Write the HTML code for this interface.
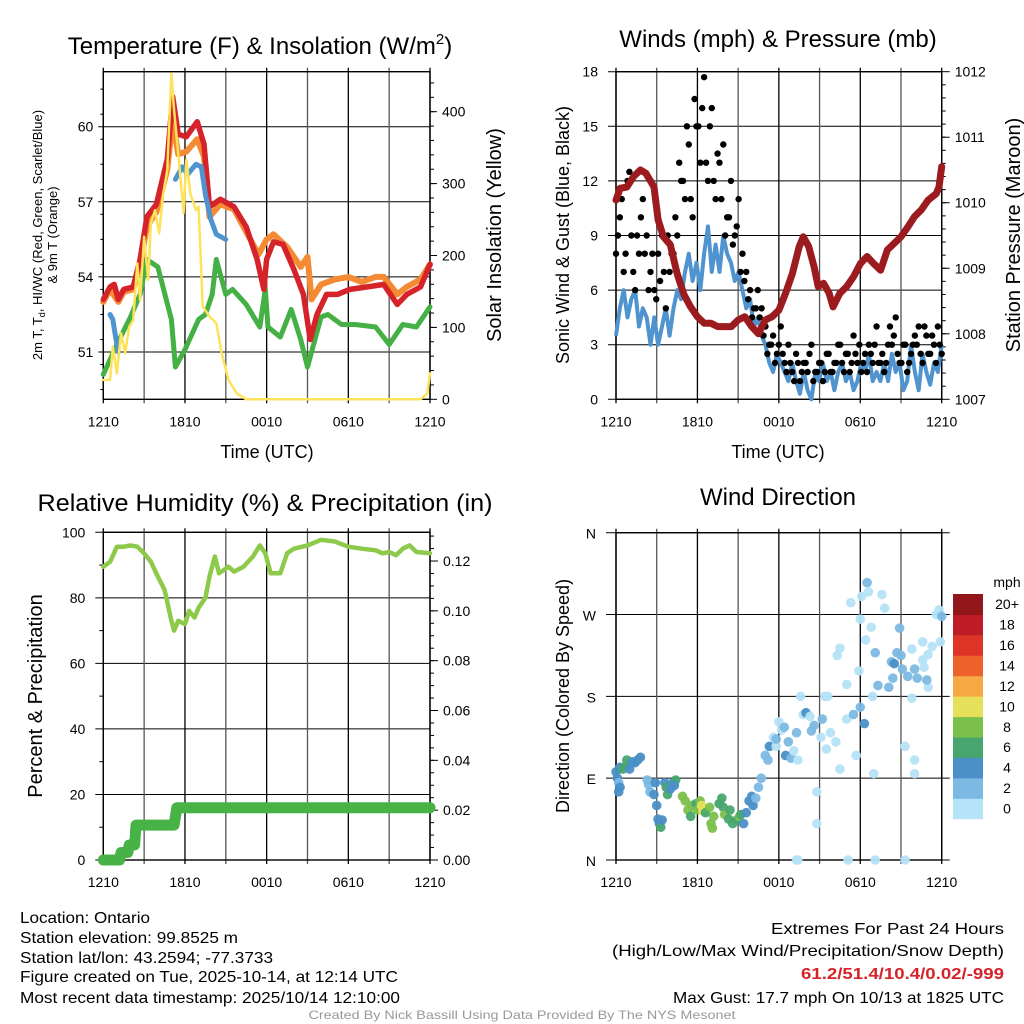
<!DOCTYPE html>
<html><head><meta charset="utf-8"><style>
html,body{margin:0;padding:0;background:#fff;}
svg{display:block;font-family:"Liberation Sans",sans-serif;}
</style></head><body>
<svg id="s" width="1024" height="1024" viewBox="0 0 1024 1024" xmlns="http://www.w3.org/2000/svg"></svg>
<script>
// ---------- DATA ----------
const timeTickLabels = ["1210","1810","0010","0610","1210"];
const tempHours = [0,0.5,0.8,1.1,1.5,2.2,2.7,3.2,3.9,4.7,5.1,5.5,6.1,6.9,7.4,7.8,8.6,9.6,10.5,11.3,11.8,12,12.5,13.2,14,14.7,15.2,15.7,16.4,17.2,18.1,19.4,20.6,21.6,22.3,23.3,24];
const tempVals  = [53.1,53.6,53.7,53.1,53.5,53.6,54.7,56.4,56.9,58.7,61.2,59.7,59.6,60.2,59.3,56.8,57.1,56.8,56,54.7,53.5,54.7,55.4,55.3,54.3,53.3,51.5,52.5,53.3,53.3,53.5,53.6,53.7,52.9,53.3,53.6,54.5];
const t9Hours = [0,0.5,1.1,1.5,2.2,2.7,3.2,3.9,4.7,5.1,5.5,6.1,6.9,7.4,7.8,8.6,9.6,10.5,11.4,12,12.5,13.5,14.5,15,15.3,16,17,18,19,20,20.6,21.6,22.3,23.3,24];
const t9Vals  = [53.0,53.5,53.0,53.4,53.5,54.5,56.0,56.6,58.3,60.3,58.9,59.0,59.5,58.8,56.4,56.9,56.7,55.8,54.9,55.5,55.7,55.2,54.4,54.8,53.1,53.7,53.9,54.0,53.8,54.0,54.0,53.3,53.6,53.9,54.5];
const tdHours = [0,1,2,2.7,3.2,4,5,5.3,6,6.5,7,7.5,8,8.3,9,9.5,10.5,11.5,11.9,12.1,13,13.8,14.5,15,16,16.5,17.5,18.5,20,21,22,23,24];
const tdVals  = [50.1,51.3,52.4,53.3,54.7,54.4,52.3,50.4,51.1,51.7,52.3,52.5,53.3,54.7,53.3,53.5,52.9,52,53.5,52,51.6,52.7,51.5,50.4,52.4,52.5,52.1,52.1,52,51.3,52.1,52,52.8];
const hiHoursA = [0.5,0.7,0.9,1.1]; const hiValsA = [52.5,52.3,51.6,51.0];
const hiHoursB = [5.3,5.8,6.2,6.8,7.2,7.5,7.9,8.3,9.0]; const hiValsB = [57.9,58.4,58.1,58.5,58.4,57.3,56.3,55.7,55.5];
const solarHours = [0,0.5,0.7,1,1.3,1.6,1.9,2.2,2.5,2.7,3,3.3,3.5,3.8,4.1,4.4,4.7,5,5.2,5.5,5.9,6.1,6.4,6.8,7,7.3,7.8,8.3,8.7,9.2,9.8,10.5,23.3,23.8,24];
const solarVals  = [27,27,73,36,92,64,101,110,189,138,226,166,245,263,231,286,319,453,402,342,259,333,286,263,268,129,115,106,64,27,8,0,0,8,36];
const tempTicks = [51,54,57,60]; const solarTicks=[0,100,200,300,400];
const windVals = [3.5,5,6,4.5,5.5,6,4,5,4.5, 3,4.5,3,4,5,3.5,5, 6,5.5,7,8,6.5,7.5,6, 8,9.5,7,8.5,7,9,8, 7.5,6.5,7,6,5,5.5,4, 4.5,3.5,3,2,1.5,2.5,2, 1.5,1,2,1,0.3,1.5,0.5, 0,1.5,1,2,1,1.5,0.5, 1.5,2,1,1.5,0.5,1,2, 1.5,2.5,1,1.5,1,2,1, 2.5,1.5,2,0.5,1,3,1.5, 0.5,2.5,1.5,0.8,2,1.5,3];
const gustVals = [8,10,7,12,9,6,8,11,9, 7,6,8,9,5,7,8, 9,12,11,14,10,15,13, 17.7,12,16,11,13,14,10, 12,9,11,8,7,6,5, 6,5,4,3,3.5,2.5,4, 2,3,1.5,2.5,1,2,1.5, 3,1.5,2,1,2.5,1.5,2, 3,2,2.5,1.5,3.5,2,1.5, 2.5,3,2,4,2,1.5,3, 3,4.5,2,3,1.5,2.5,3.5, 4,2,3.5,2.5,3,4,2.5];
const gustVals2 = [9,11,8,12.5,7,9,10,8, 6,8,5.5,6.5,7,9,8, 10,13,12,15,11,16.5,15, 16,13,15,12,13.5,11,9, 10,8.5,9.5,7,6.5,5.5,4.5, 5,4.5,3.5,2.5,3,2,3, 2.5,1.5,2,1,2,1.5,2, 2.5,1,1.5,2,1.5,2.5,1.5, 2,3,1.5,2.5,2,2.5,3, 2,1.5,2.5,3,2,2.5,2, 4,3.5,2.5,2,3,2,3, 3,2.5,4,2.5,3.5,2,3];
const presHours = [0,0.3,0.8,1.3,1.8,2.2,2.8,3.1,3.5,4,4.5,5,5.5,6,6.5,7,7.5,8,8.5,9,9.5,10,10.5,11,11.5,12,12.5,13,13.5,13.8,14.2,14.6,14.9,15.3,15.7,16,16.5,17,17.5,18,18.5,19,19.5,20,20.5,21,21.5,22,22.5,23,23.6,23.8,24];
const presVals  = [1010.04,1010.22,1010.24,1010.4,1010.5,1010.45,1010.24,1009.74,1009.48,1009.36,1008.92,1008.6,1008.41,1008.26,1008.16,1008.16,1008.11,1008.11,1008.11,1008.21,1008.26,1008.11,1008.0,1008.21,1008.26,1008.36,1008.62,1008.92,1009.33,1009.48,1009.33,1009.02,1008.72,1008.77,1008.62,1008.41,1008.62,1008.72,1008.87,1009.07,1009.18,1009.07,1008.97,1009.28,1009.38,1009.48,1009.63,1009.79,1009.89,1010.04,1010.14,1010.24,1010.55];
const windTicks=[0,3,6,9,12,15,18]; const presTicks=[1007,1008,1009,1010,1011,1012];
const rhHours = [0,0.5,1,1.5,2,2.5,3,3.5,4,4.5,5,5.2,5.5,6,6.3,6.7,7,7.5,7.8,8.2,8.5,9.2,9.6,10.3,11,11.5,11.9,12.3,13,13.5,14,15,16,17,18,19,20,20.5,21,21.5,22,22.5,23,24];
const rhVals  = [89.5,91,95.6,95.6,96,95.6,93.6,91,86.5,82.4,73,70,73,72,76,74,77,80,86.5,92.6,87.5,89.5,88,89.5,92.6,96,93.6,87.5,87.5,93.6,95,96,97.7,97.2,95.6,95,94.5,93.6,94,93,95,96,94,93.6];
const prHours = [0,1.2,1.3,1.8,1.9,2.3,2.4,5.2,5.4,24];
const prVals  = [0,0,0.003,0.003,0.006,0.006,0.014,0.014,0.021,0.021];
const rhTicks=[0,20,40,60,80,100]; const prTicks=[0,0.02,0.04,0.06,0.08,0.10,0.12];
const dirHours=[0,0.1,0.2,0.3,0.2,0.3,0.5,0.7,0.8,1.0,1.2,1.4,1.6,1.8,2.3,2.4,2.5,2.9,2.8,3.0,3.1,3.2,3.3,3.4,3.6,3.7,3.8,4.0,4.2,4.4,4.3,4.9,5.1,5.3,5.5,5.6,5.9,6.0,6.2,6.3,6.4,6.6,6.9,7.0,7.1,7.2,7.6,7.8,7.9,8.0,8.3,8.4,8.6,8.9,9.1,9.4,9.2,9.6,9.8,10.0,10.1,10.3,10.5,10.7,11.0,11.3,11.2,11.6,11.8,12.0,12.2,12.5,12.7,12.9,13.1,13.3,13.6,13.8,13.4,14.0,14.3,14.4,14.6,14.8,14.8,15.1,15.4,15.8,15.5,16.2,16.5,17.0,17.3,17.5,17.7,17.9,18.0,18.1,18.3,18.5,18.6,18.8,18.4,18.9,19.0,19.3,19.6,19.8,20.1,20.3,20.5,20.9,21.1,21.3,21.5,21.8,22.0,22.2,22.6,22.7,23.0,23.3,23.6,23.8,24.0,23.9,23.0,22.9,22.0,22.0,21.3,19.1,13.3,13.4,17.1,15.6,16.3,16.5,17.0,20.7,20.4,21.0,21.8,22.6,18.0,19.1,15.2,12.4,11.8];
const dirDeg=[97,90,85,80,75,102,100,103,110,100,108,107,110,113,88,83,75,85,72,60,45,40,36,44,85,80,72,78,85,88,82,70,65,55,48,60,62,55,65,60,54,52,58,40,35,48,62,68,58,50,45,55,40,44,48,40,50,52,65,70,60,68,80,90,115,125,110,135,125,152,143,115,130,112,120,140,180,160,110,162,158,142,148,75,40,135,180,140,122,130,100,155,283,160,115,208,265,290,150,305,295,256,242,180,95,192,292,277,190,218,216,255,210,125,202,178,210,200,220,212,226,235,270,275,268,240,190,198,95,110,0,0,0,0,0,180,225,233,193,228,200,225,232,240,168,228,155,146,133];
const dirSpd=[4,4,3,4,4,4,6,6,6,5,4,4,4,4,2,2,3,4,4,4,4,4,6,4,5,6,6,5,4,6,5,8,8,8,7,8,6,8,8,10,10,6,8,8,8,9,6,6,7,8,6,7,7,6,8,4,6,4,4,4,4,3,3,2,2,4,2,1,1,0,1,4,3,2,1,2,0,1,1,4,1,3,2,0,0,1,0,0,1,1,1,1,0,3,1,1,1,0,4,3,1,0,1,1,1,3,1,0,3,3,4,3,3,1,2,1,3,2,1,1,1,1,1,1,3,1,0,3,0,1,0,0,0,0,0,0,0,0,0,2,3,2,1,1,3,3,2,2,2];
const dirTickLabels=["N","E","S","W","N"];
const speedLabels=["0","2","4","6","8","10","12","14","16","18","20+"];
const speedColors=["#b5e3f7","#7cb9e3","#4a8fc6","#47a66d","#7cc04c","#e6e05a","#f6a843","#ef612a","#de3428","#bd1c24","#92161a"];
</script>
<script>
const S=document.getElementById('s');const NS="http://www.w3.org/2000/svg";
function mk(tag,at,parent){const e=document.createElementNS(NS,tag);for(const k in at)e.setAttribute(k,at[k]);(parent||S).appendChild(e);return e;}
function txt(str,x,y,size,anchor,extra,parent){const e=mk('text',Object.assign({x:x,y:y,'font-size':size,'text-anchor':anchor||'middle',fill:'#000'},extra||{}),parent);e.textContent=str;return e;}
function path(xs,ys,fx,fy){let d='';let pen=false;for(let i=0;i<xs.length;i++){if(ys[i]==null){pen=false;continue;}d+=(pen?'L':'M')+fx(xs[i]).toFixed(1)+' '+fy(ys[i]).toFixed(1);pen=true;}return d;}
function lin(d0,d1,r0,r1){return v=>r0+(v-d0)/(d1-d0)*(r1-r0);}

function frame(g,L,R,T,B){
  for(let i=0;i<=8;i++){const x=L+(R-L)*i/8;mk('line',{x1:x,y1:T-4,x2:x,y2:B+4,stroke:i%2? '#555':'#000','stroke-width':1.3},g);}
  mk('rect',{x:L,y:T,width:R-L,height:B-T,fill:'none',stroke:'#000','stroke-width':1.4},g);
  timeTickLabels.forEach((t,i)=>{const l=txt(t,L+(R-L)*i/4,B+27,14,'middle',{},g);
  
  });
}
// ===== Panel 1 =====
(function(){
 const g=mk('g',{});
 const L=103.3,R=430,T=71.7,B=399.3;
 const fx=lin(0,24,L,R), fy=lin(60,51,126.7,352), fs=lin(0,400,399.3,111.7);
 tempTicks.forEach(v=>{mk('line',{x1:L-5,y1:fy(v),x2:R,y2:fy(v),stroke:'#000','stroke-width':1},g);txt(String(v),L-10,fy(v)+5,14,'end',{},g);});
 for(let v=49.5;v<62.2;v+=1){mk('line',{x1:L-3,y1:fy(v),x2:L,y2:fy(v),stroke:'#000'},g);}
 solarTicks.forEach(v=>{mk('line',{x1:R,y1:fs(v),x2:R+7,y2:fs(v),stroke:'#000'},g);txt(String(v),R+12,fs(v)+5,14,'start',{},g);});
 for(let v=20;v<=450;v+=20){mk('line',{x1:R,y1:fs(v),x2:R+4,y2:fs(v),stroke:'#000'},g);}
 frame(g,L,R,T,B);
 const p=(xs,ys,c,w,n,f)=>{const e=mk('path',{d:path(xs,ys,fx,f||fy),fill:'none',stroke:c,'stroke-width':w,'stroke-linejoin':'round','stroke-linecap':'round'},g);};
 p(tdHours,tdVals,'#44b045',5,'dewpoint-line');
 p(t9Hours,t9Vals,'#f58a34',6,'9m-temp-line');
 p(tempHours,tempVals,'#d52329',5.5,'2m-temp-line');
 p(hiHoursA,hiValsA,'#4f94cf',5,'heat-index-line-a');
 p(hiHoursB,hiValsB,'#4f94cf',5,'heat-index-line-b');
 p(solarHours,solarVals,'#fde35a',2.5,'solar-line',fs);
 const t=txt('Temperature (F) & Insolation (W/m',260,54,24,'middle',{},g);const sup=mk('tspan',{dy:-10,'font-size':15},t);sup.textContent='2';const cl=mk('tspan',{dy:10},t);cl.textContent=')';
 
 const yt=txt('2m T, T',0,0,13,'middle',{transform:'translate(42,235) rotate(-90)'},g);const sb=mk('tspan',{dy:3,'font-size':9},yt);sb.textContent='d';const rs=mk('tspan',{dy:-3},yt);rs.textContent=', HI/WC (Red, Green, Scarlet/Blue)';
 
 txt('& 9m T (Orange)',0,0,13,'middle',{transform:'translate(57,235) rotate(-90)'},g);
 const ry=txt('Solar Insolation (Yellow)',0,0,20,'middle',{transform:'translate(501,235) rotate(-90)'},g);
 const xt=txt('Time (UTC)',267,458,18,'middle',{},g);
})();
// ===== Panel 2 =====
(function(){
 const g=mk('g',{});
 const L=616,R=941.7,T=71.7,B=399.3;
 const fx=lin(0,24,L,R), fy=lin(0,18,B,T), fp=lin(1007,1012,B,T);
 windTicks.forEach(v=>{mk('line',{x1:L-8,y1:fy(v),x2:R,y2:fy(v),stroke:'#000','stroke-width':1},g);txt(String(v),L-18,fy(v)+5,14,'end',{},g);});
 presTicks.forEach(v=>{mk('line',{x1:R,y1:fp(v),x2:R+8,y2:fp(v),stroke:'#000'},g);txt(String(v),R+13,fp(v)+5,14,'start',{},g);});
 for(let v=1007.2;v<1012;v+=0.2){mk('line',{x1:R,y1:fp(v),x2:R+4,y2:fp(v),stroke:'#000'},g);}
 frame(g,L,R,T,B);
 const n=windVals.length;const wh=windVals.map((v,i)=>i*24/(n-1));
 const w=mk('path',{d:path(wh,windVals,fx,fy),fill:'none',stroke:'#4f94cf','stroke-width':4,'stroke-linejoin':'round'},g);
 
 const m=gustVals.length;
 gustVals.forEach((v,i)=>{const c=mk('circle',{cx:fx(i*24/(m-1)),cy:fy(v),r:3.2,fill:'#000'},g);
 });
 gustVals2.forEach((v,i)=>{const c=mk('circle',{cx:fx((i+0.5)*24/(m-1)),cy:fy(v),r:3.2,fill:'#000'},g);
 });
 const pr=mk('path',{d:path(presHours,presVals,fx,fp),fill:'none',stroke:'#9b1b1e','stroke-width':7,'stroke-linejoin':'round','stroke-linecap':'round'},g);
 
 txt('Winds (mph) & Pressure (mb)',778,47,24,'middle',{},g);
 txt('Sonic Wind & Gust (Blue, Black)',0,0,18,'middle',{transform:'translate(569,235) rotate(-90)'},g);
 txt('Station Pressure (Maroon)',0,0,20,'middle',{transform:'translate(1020,235) rotate(-90)'},g);
 txt('Time (UTC)',778,458,18,'middle',{},g);
})();
// ===== Panel 3 =====
(function(){
 const g=mk('g',{});
 const L=103.3,R=430,T=532.3,B=860;
 const fx=lin(0,24,L,R), fy=lin(0,100,B,T), fr=lin(0,0.12,B,561);
 rhTicks.forEach(v=>{mk('line',{x1:L-8,y1:fy(v),x2:R,y2:fy(v),stroke:'#000','stroke-width':1},g);txt(String(v),L-18,fy(v)+5,14,'end',{},g);});
 for(let v=10;v<100;v+=20){mk('line',{x1:L-4,y1:fy(v),x2:L,y2:fy(v),stroke:'#000'},g);}
 prTicks.forEach(v=>{mk('line',{x1:R,y1:fr(v),x2:R+8,y2:fr(v),stroke:'#000'},g);txt(v.toFixed(2),R+13,fr(v)+5,14,'start',{},g);});
 for(let v=0.005;v<0.131;v+=0.005){mk('line',{x1:R,y1:fr(v),x2:R+4,y2:fr(v),stroke:'#000'},g);}
 frame(g,L,R,T,B);
 const rh=mk('path',{d:path(rhHours,rhVals,fx,fy),fill:'none',stroke:'#8dc94a','stroke-width':4.5,'stroke-linejoin':'round','stroke-linecap':'round'},g);
 
 const pp=mk('path',{d:path(prHours,prVals,fx,fr),fill:'none',stroke:'#47b346','stroke-width':11,'stroke-linejoin':'round','stroke-linecap':'round'},g);
 
 txt('Relative Humidity (%) & Precipitation (in)',265,511,24,'middle',{textLength:455,lengthAdjust:'spacingAndGlyphs'},g);
 txt('Percent & Precipitation',0,0,20,'middle',{transform:'translate(42,696) rotate(-90)'},g);
})();
// ===== Panel 4 =====
(function(){
 const g=mk('g',{});
 const L=616,R=941.7,T=532.7,B=860;
 const fx=lin(0,24,L,R), fy=lin(0,360,B,T);
 dirTickLabels.forEach((t,i)=>{const v=i*90;mk('line',{x1:L-10,y1:fy(v),x2:R+8,y2:fy(v),stroke:'#000','stroke-width':1},g);txt(t,L-20,fy(v)+6,14,'end',{},g);});
 frame(g,L,R,T,B);
 dirHours.forEach((h,i)=>{const ci=Math.min(10,Math.floor(dirSpd[i]/2));const c=mk('circle',{cx:fx(h),cy:fy(dirDeg[i]),r:4.8,fill:speedColors[ci],'fill-opacity':0.95},g);
 });
 txt('Wind Direction',778,505,24,'middle',{},g);
 txt('Direction (Colored By Speed)',0,0,18,'middle',{transform:'translate(569,696) rotate(-90)'},g);
 const lg=mk('g',{},g);
 const bh=(818.7-594)/11;
 speedLabels.forEach((s,i)=>{const y=818.7-(i+1)*bh;mk('rect',{x:953,y:y,width:30,height:bh+0.5,fill:speedColors[i]},lg);txt(s,1007,y+bh/2+5,14,'middle',{},lg);});
 txt('mph',1007,587,14,'middle',{},lg);
})();
// ===== footer =====
(function(){
 const g=mk('g',{'font-family':'"Liberation Sans Narrow","Liberation Sans",sans-serif'});
 const L=[["Location: Ontario",130,923],["Station elevation: 99.8525 m",218,943],["Station lat/lon: 43.2594; -77.3733",253,963],["Figure created on Tue, 2025-10-14, at 12:14 UTC",378,982],["Most recent data timestamp: 2025/10/14 12:10:00",380,1003]];
 L.forEach(a=>txt(a[0],20,a[2],16,'start',{textLength:a[1],lengthAdjust:'spacingAndGlyphs'},g));
 const Rt=[["Extremes For Past 24 Hours",233,934,{}],["(High/Low/Max Wind/Precipitation/Snow Depth)",392,956,{}],["61.2/51.4/10.4/0.02/-999",203,979,{fill:'#d52329','font-weight':'bold'}],["Max Gust: 17.7 mph On 10/13 at 1825 UTC",331,1003,{}]];
 Rt.forEach(a=>txt(a[0],1004,a[2],16,'end',Object.assign({textLength:a[1],lengthAdjust:'spacingAndGlyphs'},a[3]),g));
 txt('Created By Nick Bassill Using Data Provided By The NYS Mesonet',522,1019,12,'middle',{fill:'#999',textLength:427,lengthAdjust:'spacingAndGlyphs'},g);
})();
</script>
</body></html>
